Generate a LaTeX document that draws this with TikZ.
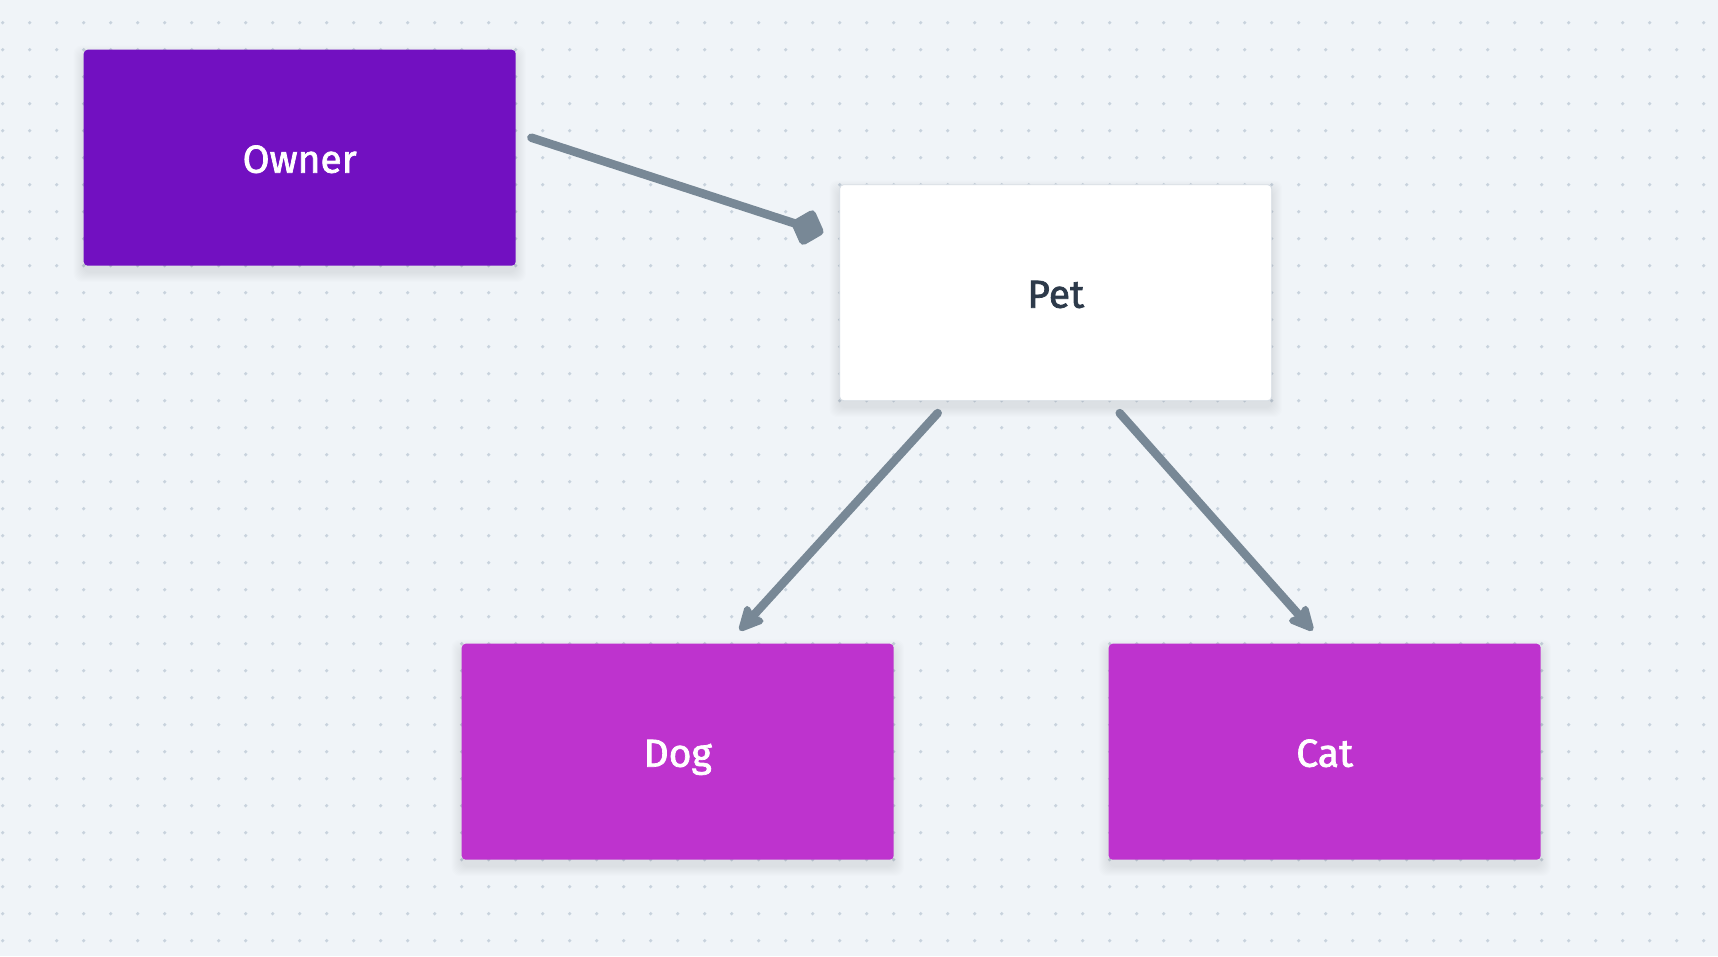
\documentclass[tikz,border=0pt]{standalone}
\usepackage{fontspec}
\setmainfont{Fira Sans}
\newfontfamily\lblfont{Fira Sans}[FakeBold=1.8]
\usetikzlibrary{arrows.meta,calc}
\definecolor{bgc}{HTML}{F0F4F8}
\definecolor{dotc}{HTML}{C8D2DD}
\definecolor{ownerc}{HTML}{7210C1}
\definecolor{subc}{HTML}{BE33CE}
\definecolor{arrc}{HTML}{788896}
\definecolor{txtc}{HTML}{2D3A4A}
\definecolor{petborder}{HTML}{D5DCE3}
\pgfdeclarelayer{back}
\pgfdeclarelayer{shade}
\pgfsetlayers{back,shade,main}
\tikzset{
  classbox/.style={rectangle, rounded corners=4pt, minimum width=432pt, minimum height=216pt,
    inner sep=0pt, text height=30pt, text depth=0pt, font=\lblfont\fontsize{39}{47}\selectfont},
  conn/.style={draw=arrc, line width=8.5pt, line cap=round},
  arrowtip/.style={-{Stealth[length=30pt, width=29pt, inset=5pt, round]}},
  diamondtip/.style={-{Diamond[length=36pt, width=40pt, round]}}
}
\newcommand\mysoftshadow[1]{%
  \foreach \k in {1,...,10}{%
    \fill[black, opacity=0.006, rounded corners=8pt]
      ($(#1.north west)+(-\k,-\k+6)$) rectangle ($(#1.south east)+(\k,\k+6)$);}}
\begin{document}
\begin{tikzpicture}[x=1pt,y=-1pt]
\begin{pgfonlayer}{back}
\fill[bgc] (0,0) rectangle (1718,956);
\foreach \i in {0,...,63}{\foreach \j in {0,...,34}{\fill[dotc] (2.7+27*\i,22.7+27*\j) circle[radius=1.8];}}
\end{pgfonlayer}
\useasboundingbox (0,0) rectangle (1718,956);

\node[classbox, fill=ownerc, text=white] (owner) at (299.7,157.7) {Owner};
\node[classbox, fill=white, draw=petborder, line width=0.8pt, text=txtc] (pet) at (1055.7,292.7) {Pet};
\node[classbox, fill=subc, text=white] (dog) at (677.7,751.7) {Dog};
\node[classbox, fill=subc, text=white] (cat) at (1324.7,751.7) {Cat};

\begin{pgfonlayer}{shade}
\mysoftshadow{owner}
\mysoftshadow{pet}
\mysoftshadow{dog}
\mysoftshadow{cat}
\end{pgfonlayer}

\coordinate (a1s) at ($(owner.east)+(15.5,-20)$);
\coordinate (a1e) at ($(pet.west)+(-16,-60)$);
\coordinate (a2s) at ($(pet.south)+(-118,12)$);
\coordinate (a2e) at ($(dog.north)+(62,-13)$);
\coordinate (a3s) at ($(pet.south)+(64,12)$);
\coordinate (a3e) at ($(cat.north)+(-12,-13)$);

\draw[conn, diamondtip] (a1s) -- (a1e);
\draw[conn, arrowtip] (a2s) -- (a2e);
\draw[conn, arrowtip] (a3s) -- (a3e);
\end{tikzpicture}
\end{document}
